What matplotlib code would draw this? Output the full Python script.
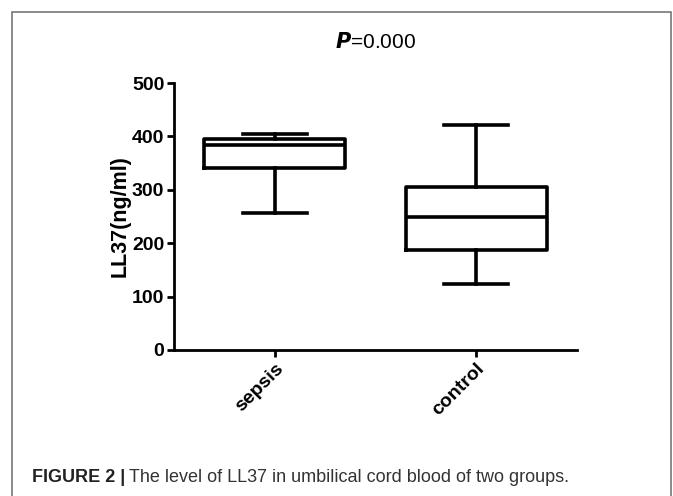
import matplotlib
matplotlib.use("Agg")
import matplotlib.pyplot as plt
from matplotlib.patches import Rectangle

# box plot summaries (ng/ml)
groups = ["sepsis", "control"]
whisker_low = [257, 123]
q1 = [340, 188]
medians = [383, 250]
q3 = [395, 305]
whisker_high = [405, 422]

yticks = [0, 100, 200, 300, 400, 500]

plt.rcParams['font.family'] = ['Liberation Sans', 'DejaVu Sans']

fig = plt.figure(figsize=(6.73, 4.96), dpi=100)
ax = fig.add_axes([174 / 673, 1 - 350 / 496, (577 - 174) / 673, (350 - 83) / 496])

stats = []
for i in range(len(groups)):
    stats.append({"label": groups[i], "whislo": whisker_low[i], "q1": q1[i],
                  "med": medians[i], "q3": q3[i], "whishi": whisker_high[i]})

lw = 2.6
ax.bxp(stats, positions=[1, 2], widths=0.7, showfliers=False,
       capwidths=0.32,
       boxprops=dict(color="black", linewidth=lw),
       medianprops=dict(color="black", linewidth=lw),
       whiskerprops=dict(color="black", linewidth=lw),
       capprops=dict(color="black", linewidth=lw))

ax.set_xlim(0.5, 2.5)
ax.set_ylim(0, 500)
ax.set_yticks(yticks)
ax.set_xticks([1, 2])
ax.set_xticklabels(groups, rotation=45, ha="right", rotation_mode="anchor",
                   fontsize=14, fontweight="bold")
for lab in ax.get_yticklabels():
    lab.set_fontweight("bold")
    lab.set_fontsize(14)
ax.set_ylabel("LL37(ng/ml)", fontsize=15.5, fontweight="bold", labelpad=1)

ax.spines["top"].set_visible(False)
ax.spines["right"].set_visible(False)
for s in ["left", "bottom"]:
    ax.spines[s].set_linewidth(2)
ax.tick_params(width=2, length=5, direction="out", pad=2)

fig.text(0.5 + (174 + 577 - 673) / 2 / 673, 1 - 42 / 496, r"$\boldsymbol{P}$=0.000",
         ha="center", va="center", fontsize=15)

# outer frame
fig.patches.append(Rectangle((12 / 673, -0.01), (671 - 12) / 673, 1 - 12 / 496 + 0.01,
                             transform=fig.transFigure, fill=False,
                             edgecolor="#777777", linewidth=1.2))

head = fig.text(32 / 673, 1 - 477 / 496, "FIGURE 2 |", ha="left", va="center",
                fontsize=13, fontweight="bold", color="#222222")
ax.annotate("The level of LL37 in umbilical cord blood of two groups.",
            xy=(1, 0.5), xycoords=head, xytext=(3, 0), textcoords="offset points",
            ha="left", va="center", fontsize=13, color="#333333",
            annotation_clip=False)

fig.savefig("out.png", dpi=100)
